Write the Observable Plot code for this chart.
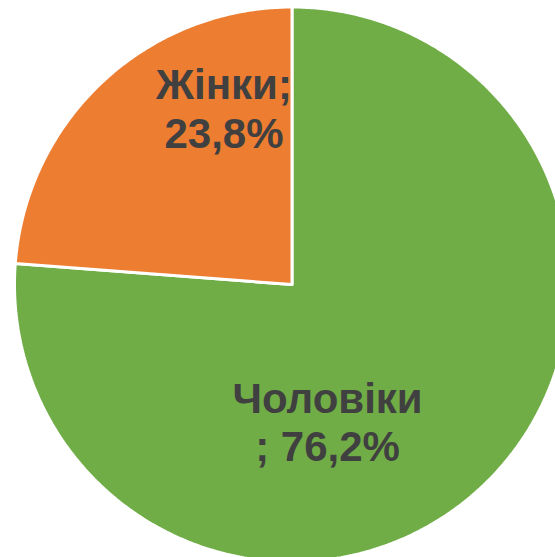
<!DOCTYPE html>
<html>
<head>
<meta charset="utf-8">
<script src="https://cdn.jsdelivr.net/npm/d3@7"></script>
<script src="https://cdn.jsdelivr.net/npm/@observablehq/plot@0.6"></script>
<style>
  html, body { margin: 0; padding: 0; background: #ffffff; overflow: hidden; }
  #chart svg { overflow: hidden; display: block; }
</style>
</head>
<body>
<div id="chart"></div>
<script>
const categories = ["Чоловіки", "Жінки"];
const shares = [76.2, 23.8];
const labelTexts = ["Чоловіки\n; 76,2%", "Жінки;\n23,8%"];
const colors = ["#70AD47", "#ED7D31"];

const W = 555, H = 557;
const cx = 291.5, cy = 284, R = 277.5;

const data = categories.map((c, i) => ({ key: c, value: shares[i], label: labelTexts[i] }));
const arcs = d3.pie().sort(null).value(d => d.value).startAngle(0).endAngle(2 * Math.PI)(data);

// polygon outline of each slice in unit-circle coordinates
const pts = [];
for (const a of arcs) {
  pts.push({ key: a.data.key, x: 0, y: 0 });
  const n = Math.max(2, Math.ceil((a.endAngle - a.startAngle) / (Math.PI / 360)));
  for (let k = 0; k <= n; k++) {
    const t = a.startAngle + (a.endAngle - a.startAngle) * k / n;
    pts.push({ key: a.data.key, x: Math.sin(t), y: Math.cos(t) });
  }
  pts.push({ key: a.data.key, x: 0, y: 0 });
}

// label anchor positions (layout, unit coordinates, relative to center)
const labelPos = { "Чоловіки": [0.128, -0.494], "Жінки": [-0.245, 0.636] };
const labels = data.map(d => ({ key: d.key, label: d.label, x: labelPos[d.key][0], y: labelPos[d.key][1] }));

const chart = Plot.plot({
  width: W,
  height: H,
  margin: 0,
  style: { background: "#ffffff", overflow: "hidden" },
  x: { domain: [-cx / R, (W - cx) / R], range: [0, W], axis: null },
  y: { domain: [-(H - cy) / R, cy / R], range: [H, 0], axis: null },
  color: { domain: categories, range: colors },
  marks: [
    Plot.line(pts, {
      x: "x", y: "y", z: "key",
      fill: "key",
      stroke: "white",
      strokeWidth: 3,
      strokeLinejoin: "miter",
      curve: "linear"
    }),
    Plot.text(labels, {
      x: "x", y: "y", text: "label",
      fill: "#404040",
      fontSize: 42,
      fontWeight: "bold",
      fontFamily: "Liberation Sans, Arial, sans-serif",
      lineHeight: 1.15,
      textAnchor: "middle"
    })
  ]
});
document.getElementById("chart").appendChild(chart);
</script>
</body>
</html>
